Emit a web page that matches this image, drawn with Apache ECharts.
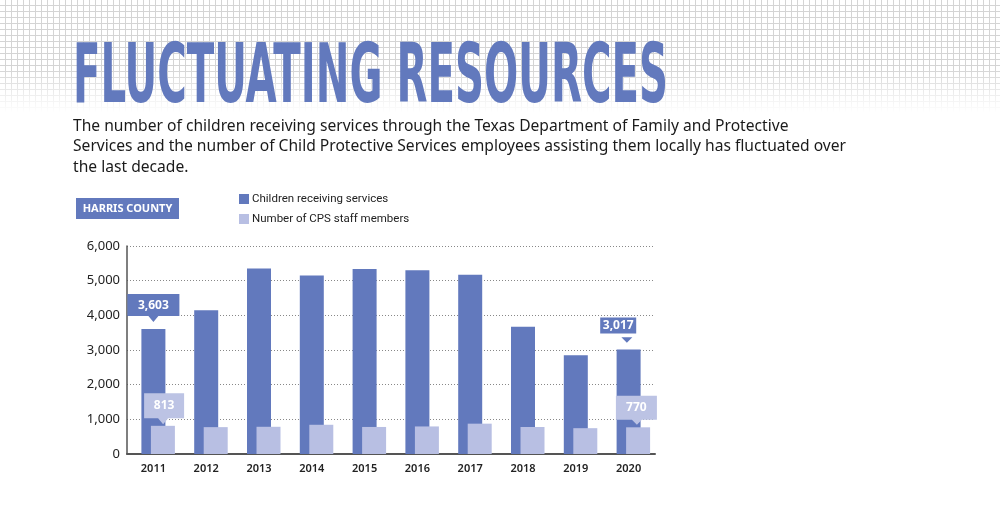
<!DOCTYPE html>
<html>
    <head>
        <meta charset="utf-8">
        <script src="https://cdn.jsdelivr.net/npm/echarts@6/dist/echarts.min.js"></script>
        <style>
            html, body { margin: 0; padding: 0; background: #fff; }
            #main { width: 1000px; height: 523px; }
        </style>
    </head>
    <body>
        <div id="main"></div>
        <script>
            var years = ['2011', '2012', '2013', '2014', '2015', '2016', '2017', '2018', '2019', '2020'];
            var children = [3603, 4145, 5350, 5150, 5340, 5300, 5170, 3670, 2850, 3017];
            var staff = [813, 775, 785, 843, 780, 795, 875, 779, 745, 770];
            var yTicks = [0, 1000, 2000, 3000, 4000, 5000, 6000];

            var TITLE = 'FLUCTUATING RESOURCES';
            var SUBTITLE = [
                'The number of children receiving services through the Texas Department of Family and Protective',
                'Services and the number of Child Protective Services employees assisting them locally has fluctuated over',
                'the last decade.'
            ];

            var DARK = '#6279bd';
            var LIGHT = '#b8bfe3';

            function measure(text, font) {
                var ctx = document.createElement('canvas').getContext('2d');
                ctx.font = font;
                return ctx.measureText(text).width;
            }

            // graph paper tile for the header background
            function paperTile() {
                var c = document.createElement('canvas');
                c.width = 6;
                c.height = 6;
                var ctx = c.getContext('2d');
                ctx.fillStyle = '#fff';
                ctx.fillRect(0, 0, 6, 6);
                ctx.fillStyle = '#d4d4d4';
                ctx.fillRect(5, 0, 1, 6);
                ctx.fillRect(0, 5, 6, 1);
                return c;
            }

            var titleFont = 'bold 82px "DejaVu Sans Condensed", "DejaVu Sans"';
            var titleScale = 595 / measure(TITLE, titleFont);
            var subFont = '17px "Noto Sans"';
            var subScale = 773 / measure(SUBTITLE[1], subFont);

            var graphics = [
                {
                    type: 'rect',
                    shape: {x: 0, y: 0, width: 1000, height: 120},
                    style: {fill: {image: paperTile(), repeat: 'repeat'}},
                    silent: true, z: -10
                },
                {
                    type: 'rect',
                    shape: {x: 0, y: 68, width: 1000, height: 52},
                    style: {
                        fill: {
                            type: 'linear', x: 0, y: 0, x2: 0, y2: 1,
                            colorStops: [
                                {offset: 0, color: 'rgba(255,255,255,0)'},
                                {offset: 0.85, color: 'rgba(255,255,255,1)'}
                            ]
                        }
                    },
                    silent: true, z: -9
                },
                {
                    type: 'text',
                    x: 73, y: 81,
                    scaleX: titleScale,
                    style: {
                        text: TITLE, font: titleFont, fill: DARK,
                        align: 'left', verticalAlign: 'middle'
                    }
                },
                {
                    type: 'rect',
                    shape: {x: 76, y: 198, width: 103, height: 21},
                    style: {fill: DARK}
                },
                {
                    type: 'text',
                    x: 127.5, y: 208.5,
                    style: {
                        text: 'HARRIS COUNTY', font: 'bold 11px "Noto Sans"', fill: '#fff',
                        align: 'center', verticalAlign: 'middle'
                    }
                }
            ];
            SUBTITLE.forEach(function (line, i) {
                graphics.push({
                    type: 'text',
                    x: 73, y: 126 + i * 20.5,
                    scaleX: subScale,
                    style: {
                        text: line, font: subFont, fill: '#1a1a1a',
                        align: 'left', verticalAlign: 'middle'
                    }
                });
            });

            var chart = echarts.init(document.getElementById('main'), null, {renderer: 'canvas'});

            chart.setOption({
                animation: false,
                backgroundColor: '#fff',
                graphic: graphics,
                legend: {
                    data: ['Children receiving services', 'Number of CPS staff members'],
                    orient: 'vertical',
                    left: 234,
                    top: 188,
                    icon: 'rect',
                    itemWidth: 10,
                    itemHeight: 10,
                    itemGap: 8,
                    selectedMode: false,
                    textStyle: {fontFamily: 'Roboto', fontSize: 11.5, color: '#222', padding: [0, 0, 0, -2]}
                },
                grid: {left: 127, right: 345, top: 246, bottom: 69},
                xAxis: {
                    type: 'category',
                    data: years,
                    axisLine: {lineStyle: {color: '#555', width: 2}},
                    axisTick: {show: false},
                    axisLabel: {
                        fontFamily: 'Noto Sans', fontSize: 11, fontWeight: 600,
                        color: '#222', margin: 9
                    }
                },
                yAxis: {
                    type: 'value',
                    min: yTicks[0],
                    max: yTicks[yTicks.length - 1],
                    interval: 1000,
                    axisLine: {show: true, lineStyle: {color: '#555', width: 1.5}},
                    axisTick: {show: false},
                    axisLabel: {
                        fontFamily: 'Noto Sans', fontSize: 13, color: '#222', margin: 7,
                        formatter: function (v) { return echarts.format.addCommas(v); }
                    },
                    splitLine: {lineStyle: {color: '#888', type: [1, 2], width: 1}}
                },
                series: [
                    {
                        // empty spacer so the dark bar sits centred on its year
                        name: 'spacer',
                        type: 'bar',
                        data: years.map(function () { return '-'; }),
                        barWidth: 24,
                        barGap: '-60.4%',
                        silent: true
                    },
                    {
                        name: 'Children receiving services',
                        type: 'bar',
                        data: children,
                        barWidth: 24,
                        barGap: '-60.4%',
                        itemStyle: {color: DARK},
                        markPoint: {
                            silent: true,
                            data: [
                                {
                                    coord: [years[0], children[0]],
                                    value: children[0],
                                    symbol: 'path://M0,0L52,0L52,22L31,22L26,28L21,22L0,22Z',
                                    symbolKeepAspect: false,
                                    symbolSize: [52, 28],
                                    symbolOffset: [0, -21],
                                    itemStyle: {color: DARK},
                                    label: {offset: [0, -3]}
                                },
                                {
                                    coord: [years[9], children[9]],
                                    value: children[9],
                                    symbol: 'rect',
                                    symbolSize: [36, 16],
                                    symbolOffset: [-10.4, -24],
                                    itemStyle: {color: DARK}
                                },
                                {
                                    coord: [years[9], children[9]],
                                    value: '',
                                    symbol: 'triangle',
                                    symbolRotate: 180,
                                    symbolSize: [11, 5.5],
                                    symbolOffset: [-1.7, -9.4],
                                    itemStyle: {color: DARK},
                                    label: {show: false}
                                }
                            ],
                            label: {
                                show: true,
                                position: 'inside',
                                color: '#fff',
                                fontFamily: 'Noto Sans',
                                fontWeight: 'bold',
                                fontSize: 12,
                                formatter: function (p) { return p.value === '' ? '' : echarts.format.addCommas(p.value); }
                            }
                        }
                    },
                    {
                        name: 'Number of CPS staff members',
                        type: 'bar',
                        data: staff,
                        barWidth: 24,
                        barGap: '-60.4%',
                        itemStyle: {color: LIGHT},
                        markPoint: {
                            silent: true,
                            data: [
                                {
                                    coord: [years[0], staff[0]],
                                    value: staff[0],
                                    symbol: 'path://M0,0L40,0L40,25L24,25L19,31L14,25L0,25Z',
                                    symbolKeepAspect: false,
                                    symbolSize: [40, 31],
                                    symbolOffset: [1.2, -17],
                                    label: {offset: [0, -3]}
                                },
                                {
                                    coord: [years[9], staff[9]],
                                    value: staff[9],
                                    symbol: 'path://M0,0L41,0L41,24L26,24L21,29L16,24L0,24Z',
                                    symbolKeepAspect: false,
                                    symbolSize: [41, 29],
                                    symbolOffset: [-1.7, -17],
                                    label: {offset: [0, -2.5]}
                                }
                            ],
                            itemStyle: {color: '#bcc3e4'},
                            label: {
                                show: true,
                                position: 'inside',
                                color: '#fff',
                                fontFamily: 'Noto Sans',
                                fontWeight: 'bold',
                                fontSize: 12
                            }
                        }
                    }
                ]
            });
        </script>
    </body>
</html>
